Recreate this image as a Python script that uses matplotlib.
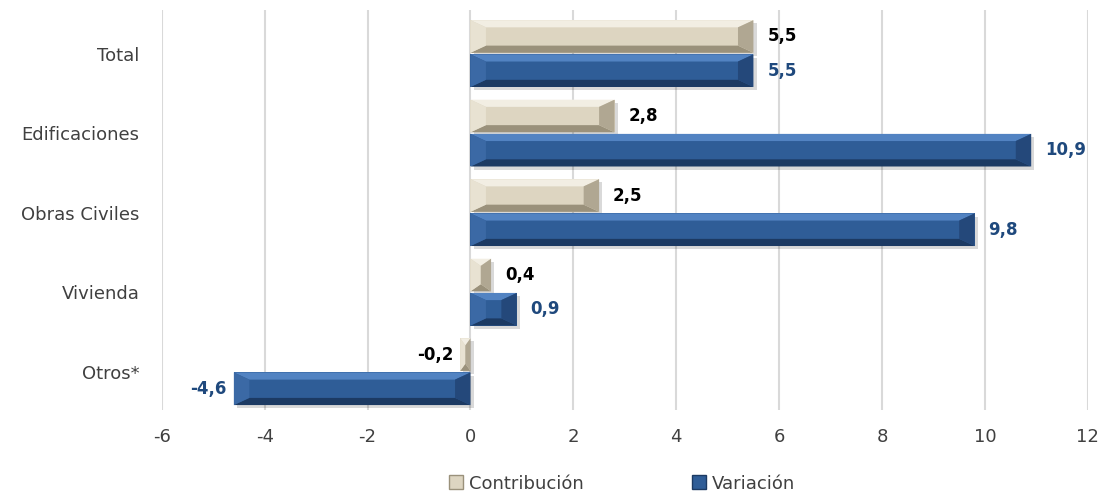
import matplotlib
matplotlib.use('Agg')
from matplotlib import pyplot as plt
from matplotlib.patches import Polygon, Patch
import numpy as np

# datos
categorias = ['Total', 'Edificaciones', 'Obras Civiles', 'Vivienda', 'Otros*']
contribucion = [5.5, 2.8, 2.5, 0.4, -0.2]
variacion = [5.5, 10.9, 9.8, 0.9, -4.6]
series = ['Contribución', 'Variación']

plt.rcParams['font.family'] = 'sans-serif'
plt.rcParams['font.sans-serif'] = ['DejaVu Sans']

fig = plt.figure(figsize=(11.01, 4.92), dpi=100)
ax = fig.add_axes([0.147, 0.167, 0.841, 0.813])

ypos = np.arange(len(categorias))[::-1]
alto = 0.41
desp = 0.215

beige = {'main': '#ddd5c1', 'top': '#f2eee3', 'bot': '#9a917b', 'left': '#e8e2d2', 'right': '#b0a792'}
azul = {'main': '#2f5d97', 'top': '#5283c2', 'bot': '#1c3a63', 'left': '#3b69a5', 'right': '#24487a'}


def barra_bisel(ax, y, v, pal):
    x0, x1 = min(0, v), max(0, v)
    y0, y1 = y - alto / 2, y + alto / 2
    # sombra
    ax.barh(y - 0.04, v, height=alto, left=0.06,
            color='#000000', alpha=0.15, zorder=2, linewidth=0)
    ax.barh(y, v, height=alto, color=pal['main'], zorder=3, linewidth=0)
    bx = min(0.3, (x1 - x0) / 2)
    by = 0.09
    polys = [
        ([(x0, y1), (x1, y1), (x1 - bx, y1 - by), (x0 + bx, y1 - by)], pal['top']),
        ([(x0, y0), (x1, y0), (x1 - bx, y0 + by), (x0 + bx, y0 + by)], pal['bot']),
        ([(x0, y0), (x0, y1), (x0 + bx, y1 - by), (x0 + bx, y0 + by)], pal['left']),
        ([(x1, y0), (x1, y1), (x1 - bx, y1 - by), (x1 - bx, y0 + by)], pal['right']),
    ]
    for pts, c in polys:
        ax.add_patch(Polygon(pts, closed=True, facecolor=c, edgecolor='none', zorder=4))


for i in range(len(categorias)):
    barra_bisel(ax, ypos[i] + desp, contribucion[i], beige)
    barra_bisel(ax, ypos[i] - desp, variacion[i], azul)

# etiquetas de valores
for i in range(len(categorias)):
    for v, yy, col in [(contribucion[i], ypos[i] + desp, 'black'),
                       (variacion[i], ypos[i] - desp, '#1f497d')]:
        txt = ('%.1f' % v).replace('.', ',')
        if v >= 0:
            ax.annotate(txt, (v, yy), xytext=(10, 0), textcoords='offset points',
                        ha='left', va='center', fontsize=12, fontweight='bold', color=col, zorder=6)
        else:
            ax.annotate(txt, (v, yy), xytext=(-5, 0), textcoords='offset points',
                        ha='right', va='center', fontsize=12, fontweight='bold', color=col, zorder=6)

ax.set_xlim(-6, 12)
ax.set_ylim(-0.48, 4.55)
ax.set_xticks(np.arange(-6, 13, 2))
ax.set_xticklabels([str(t) for t in np.arange(-6, 13, 2)])
ax.set_yticks(ypos)
ax.set_yticklabels(categorias)
ax.tick_params(axis='both', length=0, labelsize=13, labelcolor='#404040')
ax.tick_params(axis='y', pad=16)
ax.tick_params(axis='x', pad=13)
ax.grid(axis='x', color='#d9d9d9', linewidth=1.5, zorder=0)
ax.set_axisbelow(True)
for s in ax.spines.values():
    s.set_visible(False)

handles = [Patch(facecolor=beige['main'], edgecolor=beige['bot'], label=series[0]),
           Patch(facecolor=azul['main'], edgecolor=azul['bot'], label=series[1])]
fig.legend(handles=handles, loc='center', bbox_to_anchor=(0.565, 0.017), ncol=2,
           frameon=False, fontsize=13, handlelength=0.8, handleheight=0.8,
           handletextpad=0.3, columnspacing=6.0, labelcolor='#404040')

fig.savefig('out.png', dpi=100)
